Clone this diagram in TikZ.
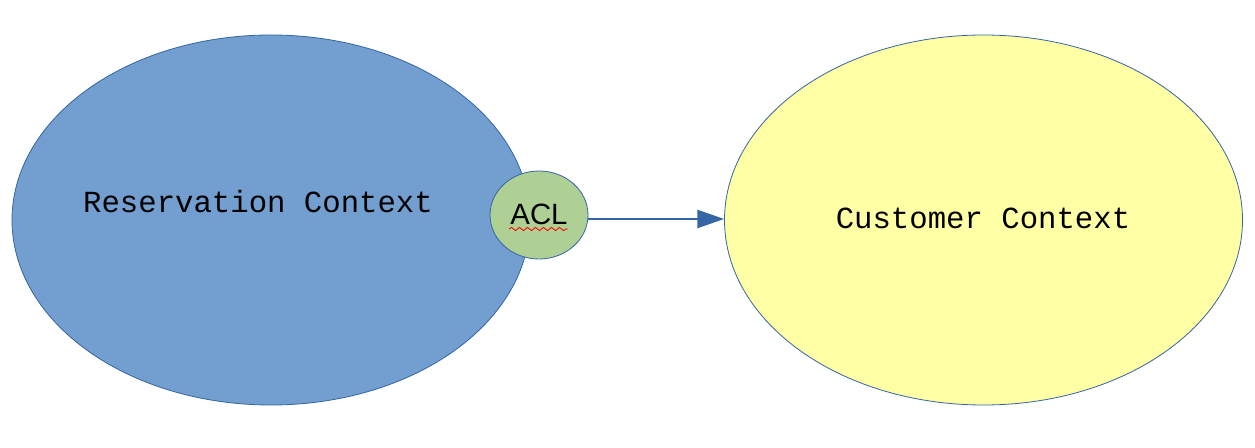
\documentclass[tikz,border=0pt]{standalone}
\usepackage{fontspec}
\setmainfont{Liberation Sans}
\newfontfamily\monofont{Liberation Mono}
\usetikzlibrary{shapes.geometric,arrows.meta,decorations.pathmorphing}
\definecolor{bluefill}{HTML}{729FCF}
\definecolor{edgeblue}{HTML}{3465A4}
\definecolor{yellowfill}{HTML}{FFFFA6}
\definecolor{greenfill}{HTML}{AFD095}
\tikzset{
  ctx/.style={ellipse, draw=edgeblue, line width=0.6pt, inner sep=0pt,
    minimum width=388.5pt, minimum height=277.5pt},
  acl/.style={ellipse, draw=edgeblue, line width=0.6pt, fill=greenfill, inner sep=0pt,
    minimum width=73.5pt, minimum height=66pt},
  ctxlabel/.style={font=\monofont\fontsize{23}{28}\selectfont, text=black, inner sep=0pt},
  conn/.style={draw=edgeblue, line width=1.5pt, -{Triangle[length=20pt,width=13.5pt]}}
}
\begin{document}
\begin{tikzpicture}[x=0.75pt,y=-0.75pt]
\useasboundingbox (0,0) rectangle (1255,448);
\fill[white] (0,0) rectangle (1255,448);
\node[ctx, fill=bluefill] (res) at (271,220) {};
\node[ctx, fill=yellowfill] (cust) at (983.5,220) {};
\node[acl] (aclnode) at (539,215) {};
\node[inner sep=0pt, font=\fontsize{22}{26}\selectfont] (acltext) at (539,214) {ACL};
\node[ctxlabel] (restext) at (258,202) {Reservation Context};
\node[ctxlabel] (custtext) at (983,218) {Customer Context};
\coordinate (sqa) at (509,229);
\coordinate (sqb) at (568,229);
\coordinate (lvl) at (0,219);
\draw[red, line width=0.6pt, decorate, decoration={snake, amplitude=1.2, segment length=6}] (sqa) -- (sqb);
\draw[conn] (aclnode.east |- lvl) -- (cust.west |- lvl);
\end{tikzpicture}
\end{document}
